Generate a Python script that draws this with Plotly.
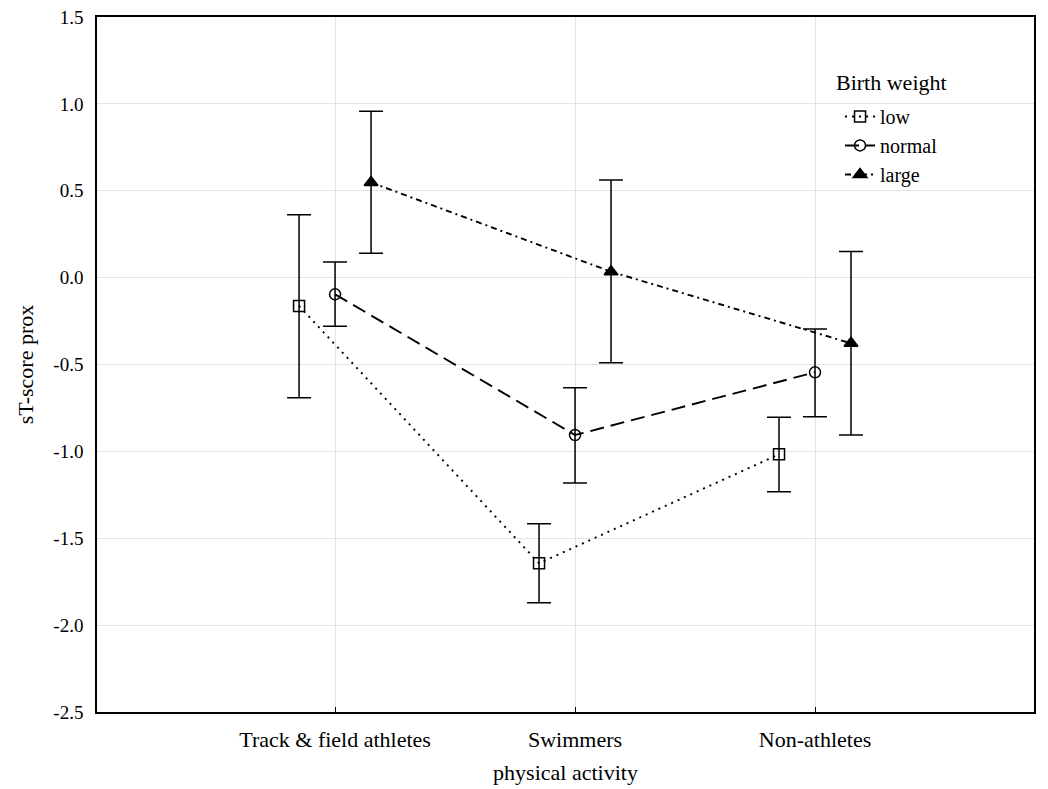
import plotly.graph_objects as go

categories = ["Track & field athletes", "Swimmers", "Non-athletes"]
groups = ["low", "normal", "large"]

low_mean = [-0.163, -1.644, -1.017]
low_lo = [-0.691, -1.871, -1.232]
low_hi = [0.362, -1.416, -0.804]

normal_mean = [-0.096, -0.906, -0.545]
normal_lo = [-0.28, -1.182, -0.80]
normal_hi = [0.09, -0.634, -0.296]

large_mean = [0.548, 0.034, -0.378]
large_lo = [0.141, -0.49, -0.906]
large_hi = [0.957, 0.562, 0.15]

y_ticks = [1.5, 1.0, 0.5, 0.0, -0.5, -1.0, -1.5, -2.0, -2.5]
y_ticktext = ["1.5", "1.0", "0.5", "0.0", "-0.5", "-1.0", "-1.5", "-2.0", "-2.5"]

series = [
    ("low", low_mean, low_lo, low_hi, -0.15, "square-open", 11, "2px,5px"),
    ("normal", normal_mean, normal_lo, normal_hi, 0.0, "circle-open", 11, "14px,7px"),
    ("large", large_mean, large_lo, large_hi, 0.15, "triangle-up", 12, "6px,4px,2px,4px"),
]

FONT = "Liberation Serif"
fig = go.Figure()
for name, mean, lo, hi, off, sym, msize, dash in series:
    xs = [i + off for i in range(len(categories))]
    fig.add_trace(go.Scatter(
        x=xs, y=mean, name=name, mode="lines+markers",
        line=dict(color="black", width=1.9, dash=dash),
        marker=dict(symbol=sym, size=msize, color="black",
                    line=dict(color="black", width=1.5)),
        error_y=dict(type="data", symmetric=False,
                     array=[h - m for h, m in zip(hi, mean)],
                     arrayminus=[m - l for m, l in zip(mean, lo)],
                     color="black", thickness=1.5, width=12),
    ))

fig.update_layout(
    width=1048, height=789,
    margin=dict(l=97, r=14, t=17, b=77),
    plot_bgcolor="white", paper_bgcolor="white",
    font=dict(family=FONT, size=22, color="black"),
    legend=dict(
        x=0.793, y=0.885, xanchor="left", yanchor="top",
        bgcolor="rgba(0,0,0,0)", font=dict(size=20, family=FONT),
        tracegroupgap=0, itemwidth=30,
    ),
    showlegend=True,
    annotations=[dict(
        text="Birth weight", xref="paper", yref="paper",
        x=0.7865, y=0.906, xanchor="left", yanchor="middle",
        showarrow=False, font=dict(size=22, family=FONT),
    )],
)
fig.update_xaxes(
    range=[-0.992, 2.9125], automargin=False,
    tickvals=list(range(len(categories))), ticktext=categories,
    showgrid=True, gridcolor="#e3e3e3", gridwidth=1,
    showline=True, linecolor="black", linewidth=1.5, mirror=True,
    ticks="inside", ticklen=5, tickcolor="black",
    zeroline=False,
    title=dict(text="physical activity", font=dict(size=22, family=FONT), standoff=13),
    tickfont=dict(size=22, family=FONT),
    ticklabelstandoff=7,
)
fig.update_yaxes(
    range=[-2.5, 1.5], automargin=False,
    tickvals=y_ticks, ticktext=y_ticktext,
    showgrid=True, gridcolor="#e3e3e3", gridwidth=1,
    showline=True, linecolor="black", linewidth=1.5, mirror=True,
    ticks="", zeroline=False,
    title=dict(text="sT-score prox", font=dict(size=22, family=FONT), standoff=14),
    tickfont=dict(size=19, family=FONT),
    ticklabelstandoff=8,
)
fig.write_html(
    "out.html",
    config={"displayModeBar": False},
    post_script="document.body.style.margin='0';document.body.style.overflow='hidden';",
)
